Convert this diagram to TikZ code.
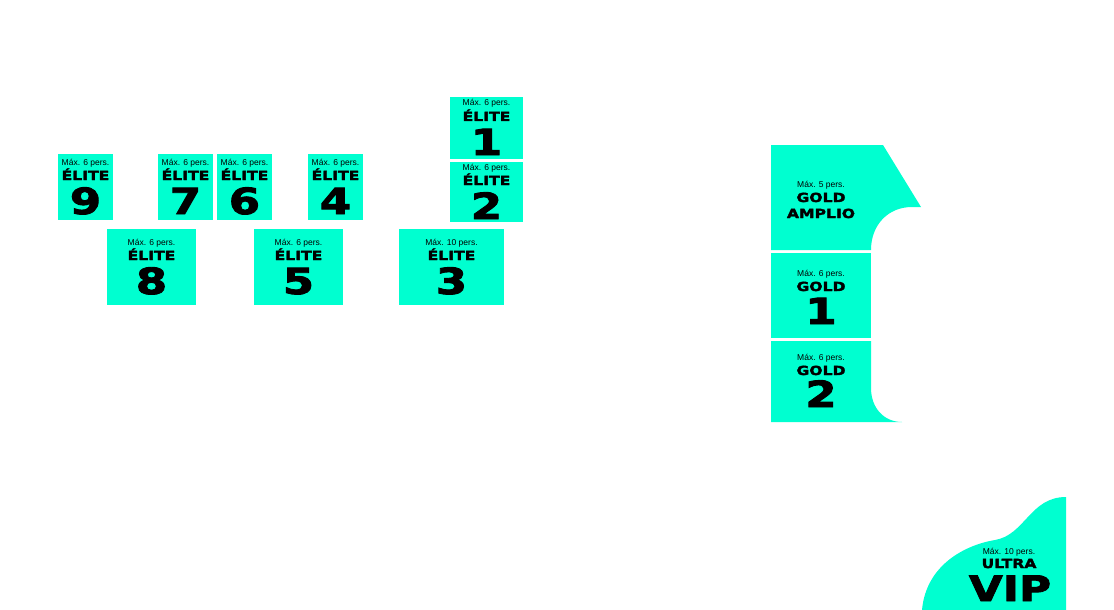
\documentclass[tikz,border=0pt]{standalone}
\usepackage{fontspec}
\setmainfont{Liberation Sans}
\newfontfamily\widefont[FakeStretch=1.25,FakeBold=2.5]{DejaVu Sans Bold}
\usetikzlibrary{positioning}
\definecolor{aqua}{RGB}{0,255,208}
\tikzset{
  zone/.style={fill=aqua},
  seatlabel/.style={anchor=base,inner sep=0pt,text=black},
}
\newcommand{\maxp}[1]{{\fontsize{8.5}{9}\selectfont Máx. #1 pers.}}
\newcommand{\kind}[1]{{\widefont\fontsize{12.5}{12}\selectfont #1}}
\newcommand{\bignum}[1]{{\widefont\fontsize{36}{36}\selectfont #1}}
% seat: name, x1, y1, x2, y2, persons, kind, number
\newcommand{\seat}[8]{%
  \fill[zone] (#2,#3) rectangle (#4,#5);
  \coordinate (#1-c) at ({(#2+#4)/2},{(#3+#5)/2});
  \node[seatlabel] (#1-max) at ([yshift=22]#1-c) {\maxp{#6}};
  \node[seatlabel] (#1) at ([yshift=7]#1-c) {\kind{#7}};
  \node[seatlabel] (#1-num) at ([yshift=-27]#1-c) {\bignum{#8}};
}
\begin{document}
\begin{tikzpicture}[x=1pt,y=-1pt]
\useasboundingbox (0,0) rectangle (1114,610);
% Elite tables
\seat{elite1}{450}{97}{523}{159}{6}{ÉLITE}{1}
\seat{elite2}{450}{162}{523}{222}{6}{ÉLITE}{2}
\seat{elite9}{58}{154}{113}{220}{6}{ÉLITE}{9}
\seat{elite7}{158}{154}{213}{220}{6}{ÉLITE}{7}
\seat{elite6}{217}{154}{272}{220}{6}{ÉLITE}{6}
\seat{elite4}{308}{154}{363}{220}{6}{ÉLITE}{4}
\seat{elite8}{107}{229}{196}{305}{6}{ÉLITE}{8}
\seat{elite5}{254}{229}{343}{305}{6}{ÉLITE}{5}
\seat{elite3}{399}{229}{504}{305}{10}{ÉLITE}{3}
% Gold zone
\fill[zone] (771,145) -- (883,145) -- (921,207) -- (912,207)
  .. controls (888,207) and (871,225) .. (871,250) -- (771,250) -- cycle;
\node[seatlabel] (goldamplio-max) at (821,187) {\maxp{5}};
\node[seatlabel] (goldamplio) at (821,202) {\kind{GOLD}};
\node[seatlabel] (goldamplio-2) at (821,218) {\kind{AMPLIO}};
\fill[zone] (771,253) rectangle (871,338);
\node[seatlabel] (gold1-max) at (821,276) {\maxp{6}};
\node[seatlabel] (gold1) at (821,291) {\kind{GOLD}};
\node[seatlabel] (gold1-num) at (821,324) {\bignum{1}};
\fill[zone] (771,341) -- (871,341) -- (871,388)
  .. controls (871,408) and (884,422) .. (902,422) -- (771,422) -- cycle;
\node[seatlabel] (gold2-max) at (821,360) {\maxp{6}};
\node[seatlabel] (gold2) at (821,375) {\kind{GOLD}};
\node[seatlabel] (gold2-num) at (821,407) {\bignum{2}};
% Ultra VIP
\fill[zone] (922,610) .. controls (926,565) and (965,545) .. (995,540)
  .. controls (1025,535) and (1030,497) .. (1066,497) -- (1066,610) -- cycle;
\node[seatlabel] (ultravip-max) at (1009,554) {\maxp{10}};
\node[seatlabel] (ultravip) at (1009,568) {\kind{ULTRA}};
\node[seatlabel] (ultravip-big) at (1010,601) {\widefont\fontsize{35}{35}\selectfont VIP};
\end{tikzpicture}
\end{document}
